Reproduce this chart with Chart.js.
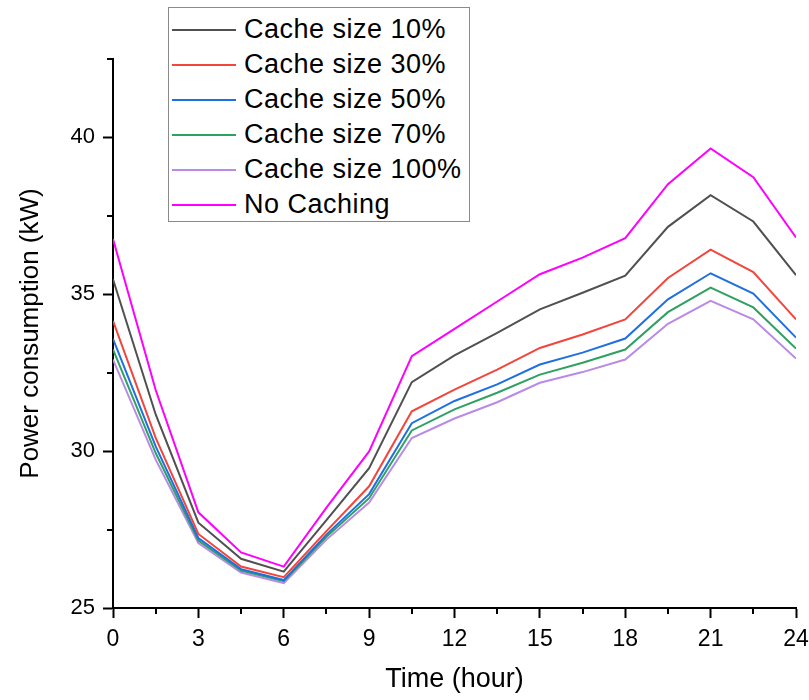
<!DOCTYPE html>
<html>
<head>
<meta charset="utf-8">
<script src="https://cdn.jsdelivr.net/npm/chart.js@4/dist/chart.umd.min.js"></script>
<style>
  html, body { margin: 0; padding: 0; background: #fff; }
  #wrap { position: relative; width: 809px; height: 700px; }
  #chart { position: absolute; left: 0; top: 0; }
  #legend {
    position: absolute; left: 168px; top: 7px; width: 302px; height: 215px;
    border: 1.5px solid #8a8a8a; background: #fff; box-sizing: border-box;
    font-family: "Liberation Sans", Arial, sans-serif; font-size: 27px; color: #000;
  }
  .row { position: absolute; left: 0; height: 35px; display: flex; align-items: center; }
  .swatch { width: 64px; height: 0; border-top: 2px solid; margin-left: 3px; margin-right: 8px; }
  .label { letter-spacing: 0.5px; white-space: nowrap; }
</style>
</head>
<body>
<div id="wrap">
  <canvas id="chart" width="809" height="700"></canvas>
  <div id="legend"></div>
</div>
<script>
// Hour of day, sampled every 1.5 h
const hours = [0, 1.5, 3, 4.5, 6, 7.5, 9, 10.5, 12, 13.5, 15, 16.5, 18, 19.5, 21, 22.5, 24];

// Power consumption (kW) per caching configuration
const cache10  = [35.48, 31.17, 27.72, 26.57, 26.16, 27.80, 29.46, 32.20, 33.05, 33.77, 34.52, 35.05, 35.59, 37.15, 38.16, 37.32, 35.61];
const cache30  = [34.15, 30.42, 27.36, 26.32, 25.98, 27.45, 28.88, 31.27, 31.96, 32.60, 33.29, 33.72, 34.20, 35.52, 36.42, 35.71, 34.20];
const cache50  = [33.58, 30.15, 27.23, 26.24, 25.89, 27.34, 28.63, 30.89, 31.60, 32.13, 32.76, 33.14, 33.59, 34.84, 35.67, 35.02, 33.62];
const cache70  = [33.24, 29.94, 27.15, 26.19, 25.86, 27.27, 28.50, 30.66, 31.33, 31.86, 32.44, 32.82, 33.24, 34.43, 35.21, 34.58, 33.27];
const cache100 = [32.92, 29.73, 27.07, 26.13, 25.79, 27.18, 28.36, 30.42, 31.04, 31.56, 32.18, 32.52, 32.92, 34.06, 34.79, 34.20, 32.95];
const noCache  = [36.76, 31.95, 28.05, 26.77, 26.32, 28.20, 29.99, 33.03, 33.90, 34.77, 35.64, 36.17, 36.79, 38.51, 39.65, 38.73, 36.81];

const seriesLabels = ["Cache size 10%", "Cache size 30%", "Cache size 50%", "Cache size 70%", "Cache size 100%", "No Caching"];
const seriesValues = [cache10, cache30, cache50, cache70, cache100, noCache];
const seriesColors = ["#505050", "#f2453b", "#1f6fe0", "#2fa062", "#b98ae6", "#ff00ff"];

const xTicks = { min: 0, max: 24, major: 3, minor: 1.5 };
const yTicks = { min: 25, max: 42.5, major: 5, minor: 2.5 };

const FONT = "'Liberation Sans', Arial, sans-serif";

const datasets = seriesLabels.map((label, i) => ({
  label,
  data: hours.map((h, j) => ({ x: h, y: seriesValues[i][j] })),
  borderColor: seriesColors[i],
  backgroundColor: seriesColors[i],
  borderWidth: 2,
  pointRadius: 0,
  tension: 0,
  fill: false
}));

const isMajor = (v, step) => Math.abs(v / step - Math.round(v / step)) < 1e-6;

// Short unlabeled ticks between the labeled ones
const minorTicks = {
  id: 'minorTicks',
  afterDraw(chart) {
    const ctx = chart.ctx;
    const xs = chart.scales.x, ys = chart.scales.y;
    ctx.save();
    ctx.strokeStyle = '#000';
    ctx.lineWidth = 2;
    for (let v = xTicks.min; v <= xTicks.max + 1e-9; v += xTicks.minor) {
      if (isMajor(v, xTicks.major)) continue;
      const px = Math.round(xs.getPixelForValue(v));
      ctx.beginPath(); ctx.moveTo(px, ys.bottom); ctx.lineTo(px, ys.bottom + 6); ctx.stroke();
    }
    for (let v = yTicks.min; v <= yTicks.max + 1e-9; v += yTicks.minor) {
      if (isMajor(v, yTicks.major)) continue;
      const py = Math.round(ys.getPixelForValue(v));
      ctx.beginPath(); ctx.moveTo(xs.left, py); ctx.lineTo(xs.left - 6, py); ctx.stroke();
    }
    ctx.restore();
  }
};

const chart = new Chart(document.getElementById('chart'), {
  type: 'line',
  data: { datasets },
  options: {
    responsive: false,
    animation: false,
    layout: { padding: { top: 59, right: 13, left: 0, bottom: 0 } },
    plugins: { legend: { display: false }, tooltip: { enabled: false } },
    scales: {
      x: {
        type: 'linear',
        min: xTicks.min, max: xTicks.max,
        afterFit: s => { s.height = 92; s.paddingLeft = 0; s.paddingRight = 0; },
        border: { color: '#000', width: 2 },
        grid: {
          drawOnChartArea: false, drawTicks: true, tickLength: 10,
          tickWidth: 2,
          tickColor: c => isMajor(c.tick.value, xTicks.major) ? '#000' : 'rgba(0,0,0,0)'
        },
        ticks: {
          stepSize: xTicks.major, autoSkip: false, maxRotation: 0,
          color: '#000', padding: 8,
          font: { family: FONT, size: 23 },
          callback: v => v
        },
        title: {
          display: true, text: 'Time (hour)', color: '#000',
          font: { family: FONT, size: 27 }, padding: { top: 0, bottom: 4 }
        }
      },
      y: {
        type: 'linear',
        min: yTicks.min, max: yTicks.max,
        afterFit: s => { s.width = 113; s.paddingTop = 0; s.paddingBottom = 0; },
        border: { color: '#000', width: 2 },
        grid: {
          drawOnChartArea: false, drawTicks: true, tickLength: 10,
          tickWidth: 2,
          tickColor: c => isMajor(c.tick.value, yTicks.major) ? '#000' : 'rgba(0,0,0,0)'
        },
        ticks: {
          stepSize: yTicks.major, autoSkip: false,
          color: '#000', padding: 8,
          font: { family: FONT, size: 22 },
          callback: v => isMajor(v, yTicks.major) ? v : ''
        },
        title: {
          display: true, text: 'Power consumption (kW)', color: '#000',
          font: { family: FONT, size: 26 }, padding: { top: 15, bottom: 0 }
        }
      }
    }
  },
  plugins: [minorTicks]
});

// Legend box built from the chart's own datasets
const legend = document.getElementById('legend');
chart.data.datasets.forEach((ds, i) => {
  const row = document.createElement('div');
  row.className = 'row';
  row.style.top = (4 + i * 35) + 'px';
  const sw = document.createElement('span');
  sw.className = 'swatch';
  sw.style.borderTopColor = ds.borderColor;
  const lb = document.createElement('span');
  lb.className = 'label';
  lb.textContent = ds.label;
  row.appendChild(sw);
  row.appendChild(lb);
  legend.appendChild(row);
});
</script>
</body>
</html>
